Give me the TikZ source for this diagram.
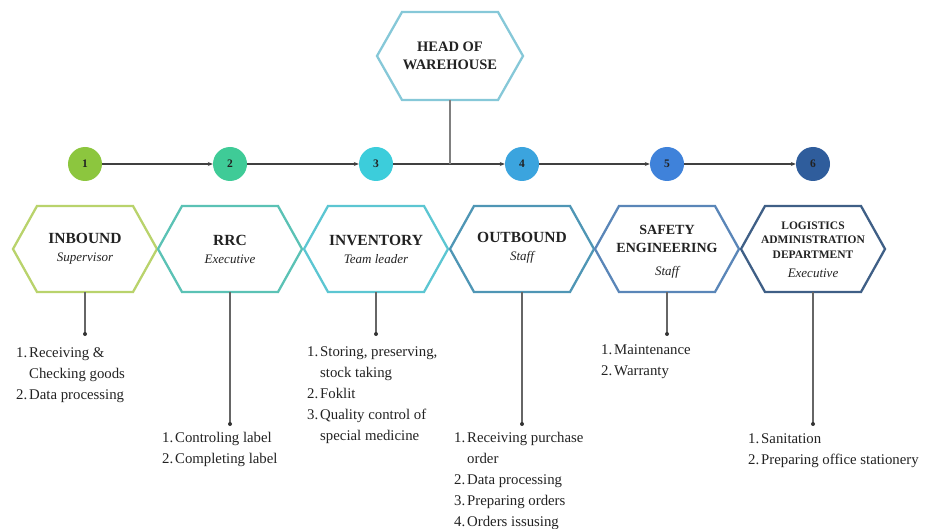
\documentclass[tikz,border=0pt]{standalone}
\usepackage{fontspec}
\setmainfont{Liberation Serif}
\usetikzlibrary{arrows.meta}

% stroke colours of the hexagons
\definecolor{hexhead}{HTML}{86C8D8}
\definecolor{hexA}{HTML}{B9D36C}
\definecolor{hexB}{HTML}{5BC2B5}
\definecolor{hexC}{HTML}{5CC6D2}
\definecolor{hexD}{HTML}{4F96B5}
\definecolor{hexE}{HTML}{5A86B8}
\definecolor{hexF}{HTML}{3F5F86}
% fills of the numbered step circles
\definecolor{dotA}{HTML}{8CC63E}
\definecolor{dotB}{HTML}{3FCB97}
\definecolor{dotC}{HTML}{3CCDDB}
\definecolor{dotD}{HTML}{3BA4DE}
\definecolor{dotE}{HTML}{3F82DA}
\definecolor{dotF}{HTML}{2F5D9C}
\definecolor{ink}{HTML}{222222}

% list helpers: numbered entry and indented continuation line
\newcommand\liitem[1]{\makebox[13pt][l]{#1.}}
\newcommand\licont{\hspace*{13pt}}

% hexagon outline around a centre point: half width, half top edge, half height
\newcommand\hexframe[5]{%
  \draw[hexline,#5]
    ([shift={(-#2,0)}]#1) -- ([shift={(-#3,-#4)}]#1) -- ([shift={(#3,-#4)}]#1) --
    ([shift={(#2,0)}]#1) -- ([shift={(#3,#4)}]#1) -- ([shift={(-#3,#4)}]#1) -- cycle;}

\begin{document}
\begin{tikzpicture}[x=1pt,y=-1pt,
  hexline/.style={line width=2.3pt,line join=miter},
  hextext/.style={align=center,inner sep=0pt,text=ink,
    font=\bfseries\fontsize{15.5}{18}\selectfont},
  stepdot/.style={circle,minimum size=34pt,inner sep=0pt,text=ink,
    font=\bfseries\fontsize{11.5}{12}\selectfont},
  flow/.style={draw=black!75,line width=1.2pt,-{Stealth[length=5pt,width=4pt]}},
  stem/.style={draw=black!50,line width=1.3pt},
  drop/.style={draw=black!60,line width=1.3pt},
  duty/.style={anchor=north west,align=left,inner sep=0pt,text=ink,
    font=\fontsize{14.8}{21}\selectfont},
]
\useasboundingbox (0,0) rectangle (926,529);

% ---------- head of warehouse ----------
\coordinate (hc0) at (450,56);
\hexframe{hc0}{73}{48}{44}{hexhead}
\node[hextext,font=\bfseries\fontsize{14.5}{18}\selectfont] (head) at (hc0) {HEAD OF\\WAREHOUSE};
\coordinate (hb0) at ([shift={(0,44)}]hc0);

% ---------- numbered steps ----------
\node[stepdot,fill=dotA] (c1) at (85,164) {1};
\node[stepdot,fill=dotB] (c2) at (230,164) {2};
\node[stepdot,fill=dotC] (c3) at (376,164) {3};
\node[stepdot,fill=dotD] (c4) at (522,164) {4};
\node[stepdot,fill=dotE] (c5) at (667,164) {5};
\node[stepdot,fill=dotF] (c6) at (813,164) {6};
\coordinate (junction) at (450,164);

\draw[flow] (c1) -- (c2);
\draw[flow] (c2) -- (c3);
\draw[flow] (c3) -- (c4);
\draw[flow] (c4) -- (c5);
\draw[flow] (c5) -- (c6);
\draw[stem] (hb0) -- (junction);

% ---------- department hexagons ----------
\foreach \i/\x/\c in {1/85/hexA,2/230/hexB,3/376/hexC,4/522/hexD,5/667/hexE,6/813/hexF}{
  \coordinate (hc\i) at (\x,249);
  \hexframe{hc\i}{72}{48}{43}{\c}
  \coordinate (hb\i) at ([shift={(0,43)}]hc\i);
}

\node[hextext] (h1) at (85,249) {INBOUND\\{\mdseries\itshape\fontsize{13}{18}\selectfont Supervisor}};
\node[hextext] (h2) at (230,249) {RRC\\{\mdseries\itshape\fontsize{13}{18}\selectfont Executive}};
\node[hextext] (h3) at (376,249) {INVENTORY\\{\mdseries\itshape\fontsize{13}{18}\selectfont Team leader}};
\node[hextext] (h4) at (522,248) {OUTBOUND\\{\mdseries\itshape\fontsize{13}{18}\selectfont Staff}};
\node[hextext,font=\bfseries\fontsize{14}{18}\selectfont] (h5) at (667,252)
  {SAFETY\\ENGINEERING\\[5pt]{\mdseries\itshape\fontsize{13}{18}\selectfont Staff}};
\node[hextext,font=\bfseries\fontsize{11.5}{14.5}\selectfont] (h6) at (813,250)
  {LOGISTICS\\ADMINISTRATION\\DEPARTMENT\\[5pt]{\mdseries\itshape\fontsize{13}{14.5}\selectfont Executive}};

% ---------- drop lines to the duty lists ----------
\coordinate (d1) at (85,334);
\coordinate (d2) at (230,424);
\coordinate (d3) at (376,334);
\coordinate (d4) at (522,424);
\coordinate (d5) at (667,334);
\coordinate (d6) at (813,424);
\foreach \i in {1,...,6}{
  \draw[drop] (hb\i) -- (d\i);
  \fill[black!80] (d\i) circle (2pt);
}

% ---------- duty lists ----------
\node[duty] (l1) at (16,347) {\liitem{1}Receiving \&\\\licont Checking goods\\\liitem{2}Data processing};
\node[duty] (l2) at (162,432) {\liitem{1}Controling label\\\liitem{2}Completing label};
\node[duty] (l3) at (307,346) {\liitem{1}Storing, preserving,\\\licont stock taking\\\liitem{2}Foklit\\\liitem{3}Quality control of\\\licont special medicine};
\node[duty] (l4) at (454,432) {\liitem{1}Receiving purchase\\\licont order\\\liitem{2}Data processing\\\liitem{3}Preparing orders\\\liitem{4}Orders issusing};
\node[duty] (l5) at (601,345) {\liitem{1}Maintenance\\\liitem{2}Warranty};
\node[duty] (l6) at (748,433) {\liitem{1}Sanitation\\\liitem{2}Preparing office stationery};
\end{tikzpicture}
\end{document}
